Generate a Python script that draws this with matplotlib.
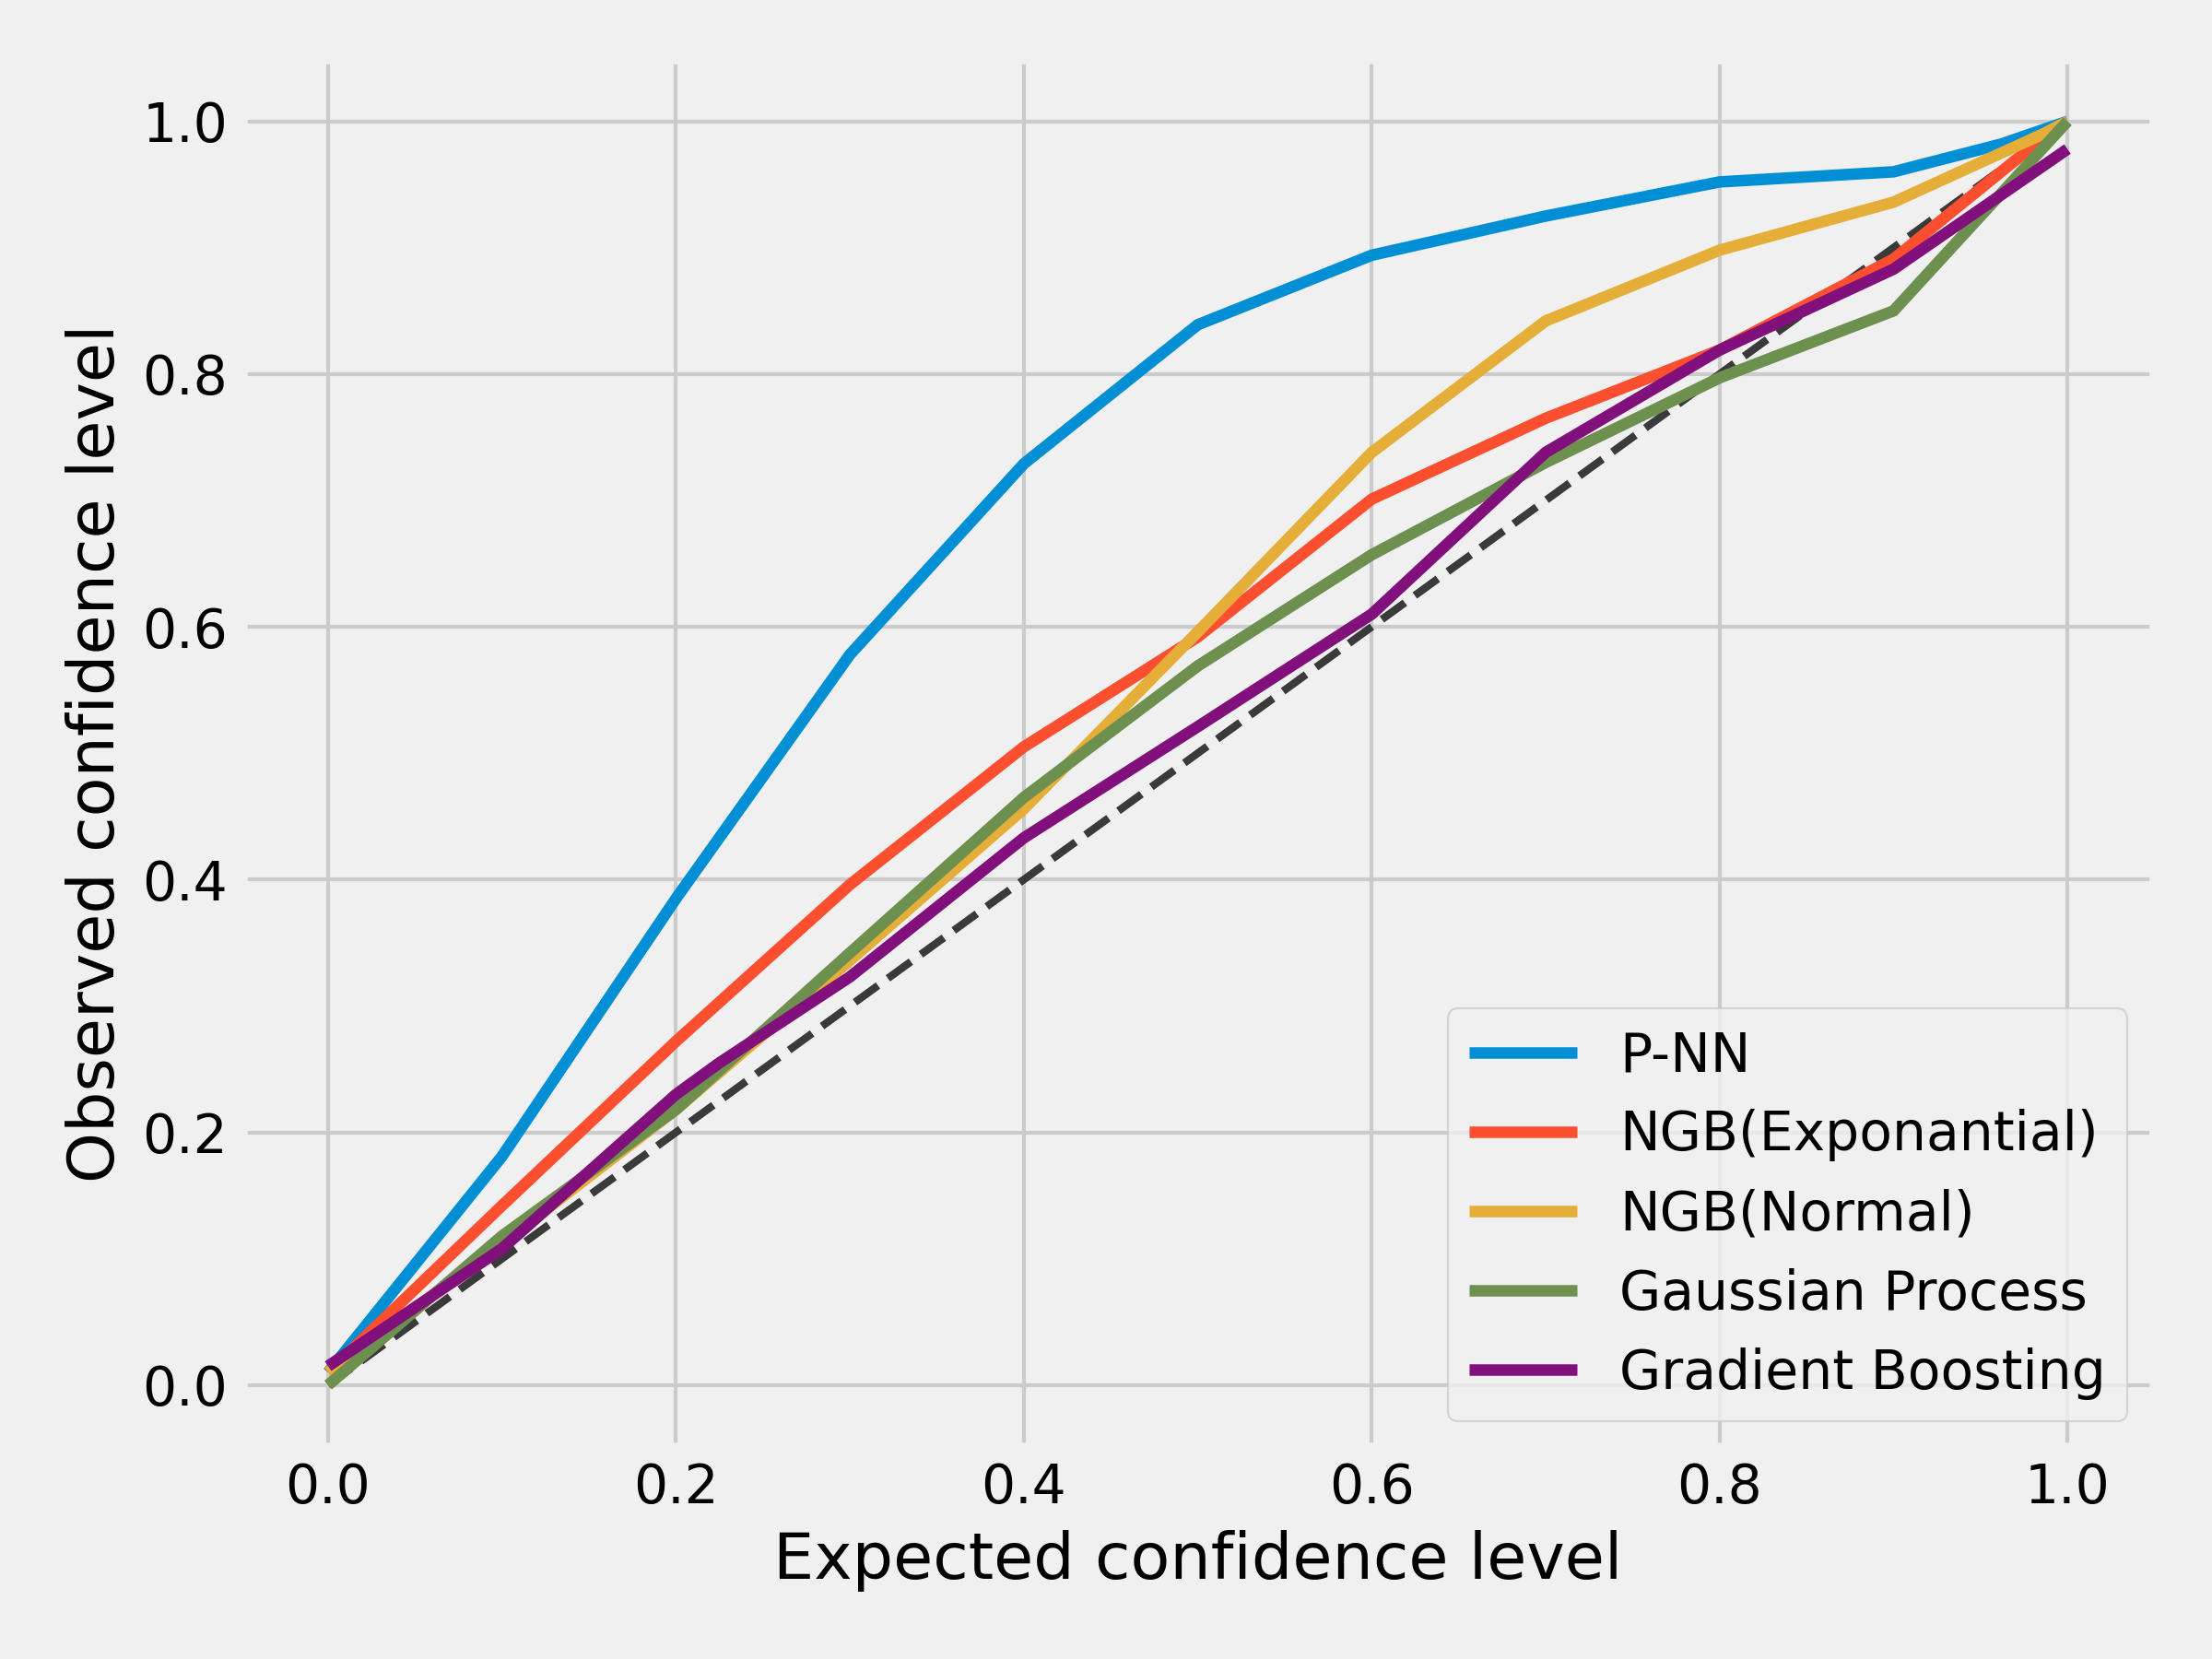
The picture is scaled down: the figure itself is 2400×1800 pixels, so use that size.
import matplotlib
matplotlib.use("Agg")
import matplotlib.pyplot as plt

plt.style.use("fivethirtyeight")

# expected vs observed confidence levels
x_pnn = [0.0, 0.1, 0.2, 0.3, 0.4, 0.5, 0.6, 0.7, 0.8, 0.9, 0.962, 1.0]
y_pnn = [0.01, 0.181, 0.385, 0.578, 0.729, 0.839, 0.894, 0.925, 0.952, 0.960, 0.982, 1.0]

x_ngb_exp = [0.0, 0.1, 0.2, 0.3, 0.4, 0.5, 0.6, 0.7, 0.8, 0.9, 0.986, 1.0]
y_ngb_exp = [0.01, 0.142, 0.272, 0.396, 0.505, 0.592, 0.701, 0.765, 0.819, 0.891, 0.987, 1.0]

x_ngb_norm = [0.0, 0.1, 0.2, 0.3, 0.4, 0.5, 0.6, 0.7, 0.8, 0.9, 0.986, 1.0]
y_ngb_norm = [0.01, 0.112, 0.218, 0.336, 0.456, 0.596, 0.738, 0.842, 0.898, 0.936, 0.99, 1.0]

x_gp = [0.0, 0.1, 0.2, 0.3, 0.4, 0.5, 0.6, 0.7, 0.8, 0.9, 1.0]
y_gp = [0.0, 0.118, 0.218, 0.342, 0.465, 0.569, 0.657, 0.730, 0.797, 0.850, 1.0]

x_gb = [0.0, 0.1, 0.2, 0.225, 0.3, 0.4, 0.5, 0.6, 0.7, 0.8, 0.9, 1.0]
y_gb = [0.015, 0.108, 0.230, 0.255, 0.323, 0.433, 0.521, 0.610, 0.738, 0.819, 0.883, 0.978]

series = [
    ("P-NN", x_pnn, y_pnn, "#008fd5"),
    ("NGB(Exponantial)", x_ngb_exp, y_ngb_exp, "#fc4f30"),
    ("NGB(Normal)", x_ngb_norm, y_ngb_norm, "#e5ae38"),
    ("Gaussian Process", x_gp, y_gp, "#6d904f"),
    ("Gradient Boosting", x_gb, y_gb, "#810f7c"),
]

fig, ax = plt.subplots(figsize=(8, 6), dpi=300)

# ideal calibration
ax.plot([0, 1], [0, 1], "--", color="#3a3a3a", linewidth=2)

for name, xs, ys, c in series:
    ax.plot(xs, ys, color=c, linewidth=3, label=name)

ax.set_xlabel("Expected confidence level")
ax.set_ylabel("Observed confidence level")
ax.legend(loc="lower right")

fig.subplots_adjust(left=0.109, right=0.974, bottom=0.127, top=0.965)
plt.savefig("out.png", dpi=300)
